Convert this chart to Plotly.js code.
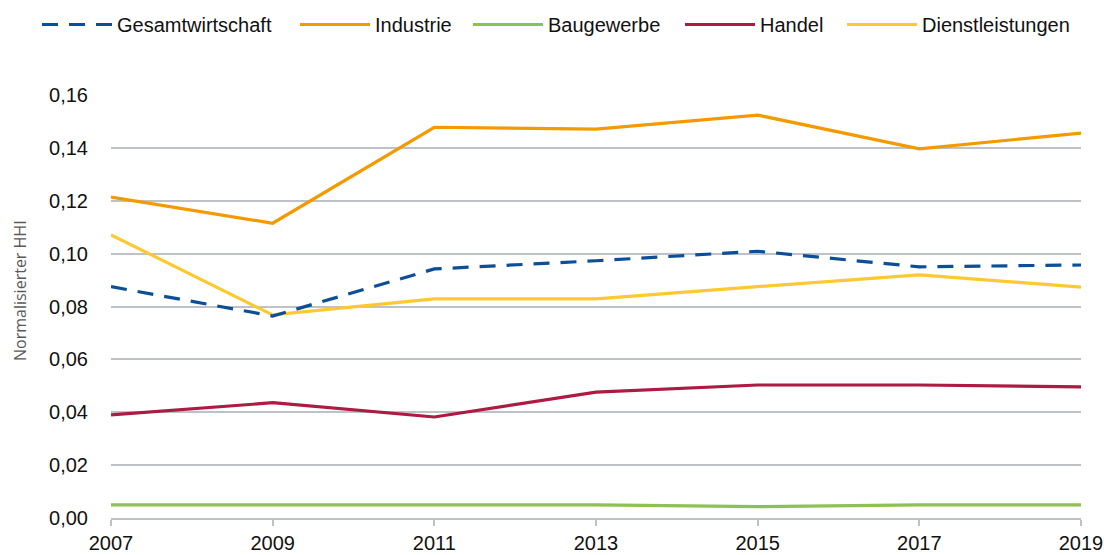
<!DOCTYPE html>
<html>
<head>
<meta charset="utf-8">
<script src="https://cdn.plot.ly/plotly-3.0.1.min.js"></script>
<style>
html,body{margin:0;padding:0;background:#fff;}
#chart{width:1104px;height:555px;}
</style>
</head>
<body>
<div id="chart"></div>
<script>
const years = [2007, 2009, 2011, 2013, 2015, 2017, 2019];
const seriesNames = ["Gesamtwirtschaft", "Industrie", "Baugewerbe", "Handel", "Dienstleistungen"];
const gesamtwirtschaft = [0.0875, 0.0764, 0.0942, 0.0973, 0.1009, 0.0950, 0.0957];
const industrie = [0.1214, 0.1115, 0.1478, 0.1471, 0.1524, 0.1396, 0.1456];
const baugewerbe = [0.0050, 0.0050, 0.0050, 0.0050, 0.0043, 0.0050, 0.0050];
const handel = [0.0390, 0.0436, 0.0382, 0.0476, 0.0503, 0.0503, 0.0496];
const dienstleistungen = [0.1071, 0.0768, 0.0829, 0.0829, 0.0875, 0.0920, 0.0873];
const yTickVals = [0, 0.02, 0.04, 0.06, 0.08, 0.10, 0.12, 0.14, 0.16];
const yTitle = "Normalisierter HHI";

const allValues = [gesamtwirtschaft, industrie, baugewerbe, handel, dienstleistungen];
const colors = ["#0a4f97", "#f39a00", "#8dc153", "#ad1a42", "#fdc932"];
const dashes = ["16px,11px", "solid", "solid", "solid", "solid"];
const legendIds = ["legend", "legend2", "legend3", "legend4", "legend5"];
const legendX = [-0.0763, 0.1897, 0.3680, 0.5866, 0.7536];

const traces = seriesNames.map((name, i) => ({
  type: "scatter",
  mode: "lines",
  name: name,
  x: years,
  y: allValues[i],
  line: {color: colors[i], width: 3.2, dash: dashes[i]},
  legend: legendIds[i],
  hoverinfo: "x+y+name"
}));
// draw Gesamtwirtschaft on top
const ordered = [traces[2], traces[3], traces[4], traces[1], traces[0]];

const legendFont = {family: "Liberation Sans, Arial, sans-serif", size: 20, color: "#111"};
const layout = {
  width: 1104,
  height: 555,
  paper_bgcolor: "#ffffff",
  plot_bgcolor: "#ffffff",
  margin: {l: 111, r: 23, t: 95, b: 37},
  showlegend: true,
  xaxis: {
    range: [2007, 2019],
    tickvals: years,
    ticktext: years.map(String),
    showgrid: false,
    zeroline: false,
    showline: true,
    linecolor: "#bfc1c9",
    linewidth: 1.5,
    ticks: "outside",
    ticklen: 6,
    tickwidth: 1.5,
    tickcolor: "#bfc1c9",
    tickfont: {family: "Liberation Sans, Arial, sans-serif", size: 20, color: "#111"},
    fixedrange: true
  },
  yaxis: {
    range: [0, 0.16],
    tickvals: yTickVals,
    tickformat: ".2f",
    showgrid: true,
    gridcolor: "#bfc1c9",
    gridwidth: 1.7,
    zeroline: false,
    showline: false,
    ticks: "",
    ticklabelstandoff: 22,
    tickfont: {family: "Liberation Sans, Arial, sans-serif", size: 20, color: "#111"},
    fixedrange: true
  },
  annotations: [{
    text: yTitle,
    xref: "paper", yref: "paper",
    x: (20 - 111) / 970, y: (518 - 291) / 423,
    xanchor: "center", yanchor: "middle",
    textangle: -90,
    showarrow: false,
    font: {family: "Open Sans, sans-serif", size: 16, color: "#595959"}
  }],
  separators: ",.",
  font: {family: "Liberation Sans, Arial, sans-serif"}
};
legendIds.forEach((id, i) => {
  layout[id] = {
    orientation: "h",
    x: legendX[i],
    xanchor: "left",
    y: 1 - 5 / 555,
    yref: "container",
    yanchor: "top",
    font: legendFont,
    itemwidth: 70,
    bgcolor: "rgba(0,0,0,0)",
    borderwidth: 0
  };
});

Plotly.newPlot("chart", ordered, layout, {displayModeBar: false});
</script>
</body>
</html>
